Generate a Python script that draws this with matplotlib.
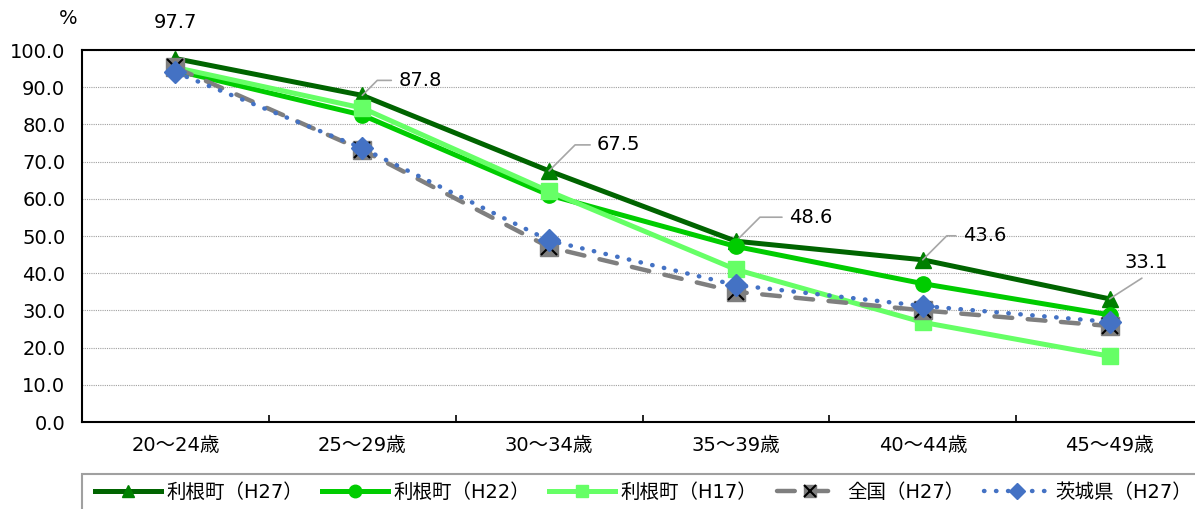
import matplotlib.pyplot as plt
from matplotlib.lines import Line2D
from matplotlib.patches import Rectangle
from matplotlib.legend_handler import HandlerTuple

plt.rcParams["font.family"] = ["DejaVu Sans", "Noto Sans CJK JP"]

# =========================================================
# DATA
# =========================================================
ages = ["20～24歳", "25～29歳", "30～34歳", "35～39歳", "40～44歳", "45～49歳"]
tone_h27 = [97.7, 87.8, 67.5, 48.6, 43.6, 33.1]
tone_h22 = [94.5, 82.5, 61.0, 47.2, 37.2, 28.8]
tone_h17 = [95.3, 84.4, 62.0, 41.0, 26.8, 17.7]
zenkoku_h27 = [95.3, 73.1, 47.0, 35.0, 30.0, 25.8]
ibaraki_h27 = [94.0, 73.6, 48.8, 36.8, 31.2, 26.9]

# label offsets (pixels) for H27 values
label_off = [(0, 36), (36, 15), (48, 26), (53, 24), (40, 24), (37, 36)]

x = list(range(len(ages)))
FS = 14
W, H = 1195, 509

fig = plt.figure(figsize=(11.95, 5.09), dpi=100)
ax = fig.add_axes([82 / W, 1 - 422 / H, (1203 - 82) / W, (422 - 50) / H])

# =========================================================
# LINES
# =========================================================
ax.plot(x, tone_h27, color="#006400", lw=3.6, marker="^", ms=11,
        mfc="#008000", mec="#008000", zorder=3)
ax.plot(x, tone_h22, color="#00CC00", lw=3.6, marker="o", ms=11,
        mfc="#00CC00", mec="#00CC00", zorder=4)
ax.plot(x, tone_h17, color="#66FF66", lw=3.6, marker="s", ms=12,
        mfc="#66FF66", mec="#66FF66", zorder=5)
ax.plot(x, zenkoku_h27, color="#7F7F7F", lw=3.2, ls=(0, (4, 3.5)),
        dash_capstyle="round", zorder=6)
ax.plot(x, zenkoku_h27, ls="none", marker="s", ms=13, mfc="#7F7F7F",
        mec="#7F7F7F", zorder=6)
ax.plot(x, zenkoku_h27, ls="none", marker="x", ms=12, mew=1.5,
        color="black", zorder=6)
ax.plot(x, ibaraki_h27, color="#4472C4", lw=3.2, ls=(0, (0.1, 2.6)),
        dash_capstyle="round", marker="D", ms=11, mfc="#4472C4",
        mec="#4472C4", zorder=7)

# value labels
for i, v in enumerate(tone_h27):
    dx, dy = label_off[i]
    if i == 0:
        ax.annotate(f"{v:.1f}", (x[i], v), xytext=(dx, dy),
                    textcoords="offset pixels", ha="center", va="center",
                    fontsize=FS)
    elif i == len(tone_h27) - 1:
        ax.annotate(f"{v:.1f}", (x[i], v), xytext=(dx, dy),
                    textcoords="offset pixels", ha="center", va="center",
                    fontsize=FS,
                    arrowprops=dict(arrowstyle="-", color="#A6A6A6", lw=1.2,
                                    relpos=(0.6, 0), shrinkA=4, shrinkB=0))
    else:
        ax.annotate(f"{v:.1f}", (x[i], v), xytext=(dx, dy),
                    textcoords="offset pixels", ha="left", va="center",
                    fontsize=FS,
                    arrowprops=dict(arrowstyle="-", color="#A6A6A6", lw=1.2,
                                    relpos=(0, 0.5), shrinkA=3, shrinkB=0,
                                    connectionstyle="angle,angleA=0,angleB=45,rad=0"))

# =========================================================
# AXES
# =========================================================
ax.set_xlim(-0.5, 5.5)
ax.set_ylim(0, 100)
ax.set_yticks(range(0, 101, 10))
ax.set_yticklabels([f"{t:.1f}" for t in range(0, 101, 10)], fontsize=FS)
ax.set_xticks(x)
ax.set_xticklabels(ages, fontsize=FS)
ax.set_xticks([i + 0.5 for i in range(5)], minor=True)
ax.tick_params(axis="x", which="major", length=0, pad=10)
ax.tick_params(axis="x", which="minor", direction="in", length=5, width=1.2)
ax.tick_params(axis="y", length=0, pad=12)
ax.grid(True, axis="y", color="#A0A0A0", ls=(0, (1, 1)), lw=0.8)
ax.set_axisbelow(True)
for s in ["left", "bottom", "top"]:
    ax.spines[s].set_linewidth(1.5)
ax.spines["right"].set_visible(False)

fig.text(68 / W, 1 - 18 / H, "%", ha="center", va="center", fontsize=FS)

# =========================================================
# LEGEND
# =========================================================
fig.patches.append(Rectangle((82 / W, -0.05), 1.0, 0.05 + 1 - 474 / H,
                             transform=fig.transFigure, fill=False,
                             edgecolor="#A0A0A0", lw=1.5))

h1 = Line2D([], [], color="#006400", lw=3.6, marker="^", ms=9, mfc="#008000", mec="#008000")
h2 = Line2D([], [], color="#00CC00", lw=3.6, marker="o", ms=9, mfc="#00CC00", mec="#00CC00")
h3 = Line2D([], [], color="#66FF66", lw=3.6, marker="s", ms=9, mfc="#66FF66", mec="#66FF66")
h4a = Line2D([], [], color="#7F7F7F", lw=3.2, ls=(0, (4, 3.5)), dash_capstyle="round",
             marker="s", ms=9, mfc="#7F7F7F", mec="#7F7F7F")
h4b = Line2D([], [], ls="none", marker="x", ms=8, mew=1.5, color="black")
h5 = Line2D([], [], color="#4472C4", lw=3.2, ls=(0, (0.1, 2.6)), dash_capstyle="round",
            marker="D", ms=8, mfc="#4472C4", mec="#4472C4")

leg = fig.legend([h1, h2, h3, (h4a, h4b), h5],
                 ["利根町（H27）", "利根町（H22）", "利根町（H17）", "全国（H27）", "茨城県（H27）"],
                 handler_map={tuple: HandlerTuple(ndivide=1, pad=0)},
                 loc="center left", bbox_to_anchor=(95 / W, 1 - 492 / H),
                 ncol=5, fontsize=FS, handlelength=3.4, handletextpad=0.25,
                 columnspacing=1.0, frameon=False,
                 borderaxespad=0, borderpad=0)

plt.savefig("out.png", dpi=100)
